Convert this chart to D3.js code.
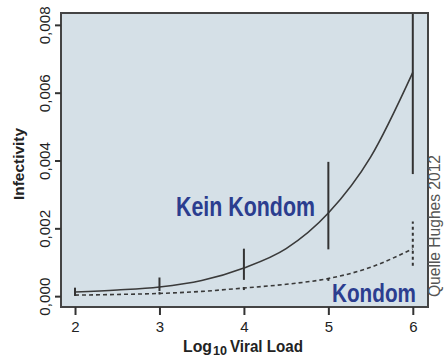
<!DOCTYPE html>
<html>
<head>
<meta charset="utf-8">
<script src="https://cdn.jsdelivr.net/npm/d3@7"></script>
<style>
  body { margin: 0; background: #fff; }
  svg { display: block; font-family: "Liberation Sans", Arial, sans-serif; }
</style>
</head>
<body>
<div id="chart"></div>
<script>
// Data
const logViralLoad = [2, 2.5, 3, 3.5, 4, 4.5, 5, 5.5, 6];
const keinKondom = [0.00012, 0.00018, 0.00027, 0.00046, 0.00083, 0.0014, 0.00245, 0.0041, 0.0066];
const kondom = [0.00003, 0.00005, 0.00008, 0.00014, 0.00024, 0.00035, 0.00052, 0.00085, 0.0014];

const errX = [2, 3, 4, 5, 6];
const keinLow = [0.00001, 0.00015, 0.00048, 0.00138, 0.0036];
const keinHigh = [0.00025, 0.00055, 0.0014, 0.00396, 0.0095];
const kondomLow = [0.00001, 0.00005, 0.00018, 0.00045, 0.0009];
const kondomHigh = [0.00006, 0.00012, 0.0003, 0.0006, 0.0022];

const xTicks = [2, 3, 4, 5, 6];
const yTicks = [0, 0.002, 0.004, 0.006, 0.008];

const width = 445, height = 360;
const margin = { top: 13, right: 17, bottom: 53, left: 61 };
const innerW = width - margin.left - margin.right;
const innerH = height - margin.top - margin.bottom;

const svg = d3.select("#chart")
  .append("svg")
  .attr("width", width)
  .attr("height", height);

const x = d3.scaleLinear().domain([1.834, 6.18]).range([0, innerW]);
const y = d3.scaleLinear().domain([-0.00032, 0.00835]).range([innerH, 0]);

const g = svg.append("g")
  .attr("transform", "translate(" + margin.left + "," + margin.top + ")");

// Plot background
g.append("rect")
  .attr("width", innerW)
  .attr("height", innerH)
  .attr("fill", "#d5e0e7");

g.append("clipPath").attr("id", "clip")
  .append("rect").attr("width", innerW).attr("height", innerH);

const plot = g.append("g").attr("clip-path", "url(#clip)");

const line = d3.line()
  .x(function (d, i) { return x(logViralLoad[i]); })
  .y(function (d) { return y(d); })
  .curve(d3.curveMonotoneX);

plot.append("path")
  .datum(keinKondom)
  .attr("d", line)
  .attr("fill", "none")
  .attr("stroke", "#3a3a3a")
  .attr("stroke-width", 1.6);

plot.append("path")
  .datum(kondom)
  .attr("d", line)
  .attr("fill", "none")
  .attr("stroke", "#3a3a3a")
  .attr("stroke-width", 1.6)
  .attr("stroke-dasharray", "4,3");

// Error bars
plot.selectAll(".err-kein")
  .data(errX)
  .enter()
  .append("line")
  .attr("class", "err-kein")
  .attr("x1", function (d) { return x(d); })
  .attr("x2", function (d) { return x(d); })
  .attr("y1", function (d, i) { return y(keinLow[i]); })
  .attr("y2", function (d, i) { return y(keinHigh[i]); })
  .attr("stroke", "#333")
  .attr("stroke-width", 2);

plot.selectAll(".err-kondom")
  .data(errX)
  .enter()
  .append("line")
  .attr("class", "err-kondom")
  .attr("x1", function (d) { return x(d); })
  .attr("x2", function (d) { return x(d); })
  .attr("y1", function (d, i) { return y(kondomLow[i]); })
  .attr("y2", function (d, i) { return y(kondomHigh[i]); })
  .attr("stroke", "#333")
  .attr("stroke-width", 2)
  .attr("stroke-dasharray", "3,3");

// Frame
g.append("rect")
  .attr("width", innerW)
  .attr("height", innerH)
  .attr("fill", "none")
  .attr("stroke", "#444")
  .attr("stroke-width", 2);

// Axes
const xAxis = g.append("g")
  .attr("transform", "translate(0," + innerH + ")")
  .call(d3.axisBottom(x).tickValues(xTicks).tickSize(8).tickFormat(d3.format("d")));

xAxis.select(".domain").remove();
xAxis.selectAll("line").attr("stroke", "#333").attr("stroke-width", 2);
xAxis.selectAll("text")
  .attr("fill", "#222")
  .attr("y", 14)
  .style("font-size", "15px");

const yAxis = g.append("g")
  .call(d3.axisLeft(y).tickValues(yTicks).tickSize(6)
    .tickFormat(function (d) { return d3.format(".3f")(d).replace(".", ","); }));

yAxis.select(".domain").remove();
yAxis.selectAll("line").attr("stroke", "#333").attr("stroke-width", 2);
yAxis.selectAll("text")
  .attr("x", null)
  .attr("dy", null)
  .attr("transform", "translate(-11,0) rotate(-90)")
  .attr("text-anchor", "middle")
  .attr("fill", "#222")
  .attr("textLength", 38)
  .attr("lengthAdjust", "spacingAndGlyphs")
  .style("font-size", "15px");

// Axis titles
const xTitle = svg.append("text")
  .attr("y", 352)
  .attr("font-weight", "bold")
  .attr("fill", "#222")
  .style("font-size", "16px");
xTitle.append("tspan").attr("x", 183).attr("textLength", 29).attr("lengthAdjust", "spacingAndGlyphs").text("Log");
xTitle.append("tspan").attr("x", 213).attr("dy", 3).style("font-size", "12px").attr("textLength", 14).attr("lengthAdjust", "spacingAndGlyphs").text("10");
xTitle.append("tspan").attr("x", 230).attr("dy", -3).attr("textLength", 73).attr("lengthAdjust", "spacingAndGlyphs").text("Viral Load");

svg.append("text")
  .attr("transform", "translate(24,164) rotate(-90)")
  .attr("text-anchor", "middle")
  .attr("font-weight", "bold")
  .attr("fill", "#222")
  .attr("textLength", 72)
  .attr("lengthAdjust", "spacingAndGlyphs")
  .style("font-size", "15px")
  .text("Infectivity");

// Series labels
svg.append("text")
  .attr("x", 176)
  .attr("y", 216)
  .attr("font-weight", "bold")
  .attr("fill", "#2b3d8f")
  .attr("textLength", 139)
  .attr("lengthAdjust", "spacingAndGlyphs")
  .style("font-size", "27px")
  .text("Kein Kondom");

svg.append("text")
  .attr("x", 332)
  .attr("y", 302)
  .attr("font-weight", "bold")
  .attr("fill", "#2b3d8f")
  .attr("textLength", 84)
  .attr("lengthAdjust", "spacingAndGlyphs")
  .style("font-size", "25px")
  .text("Kondom");

// Source note
svg.append("text")
  .attr("transform", "translate(440,297) rotate(-90)")
  .attr("text-anchor", "start")
  .attr("fill", "#555")
  .attr("textLength", 142)
  .attr("lengthAdjust", "spacingAndGlyphs")
  .style("font-size", "16px")
  .text("Quelle Hughes 2012");
</script>
</body>
</html>
